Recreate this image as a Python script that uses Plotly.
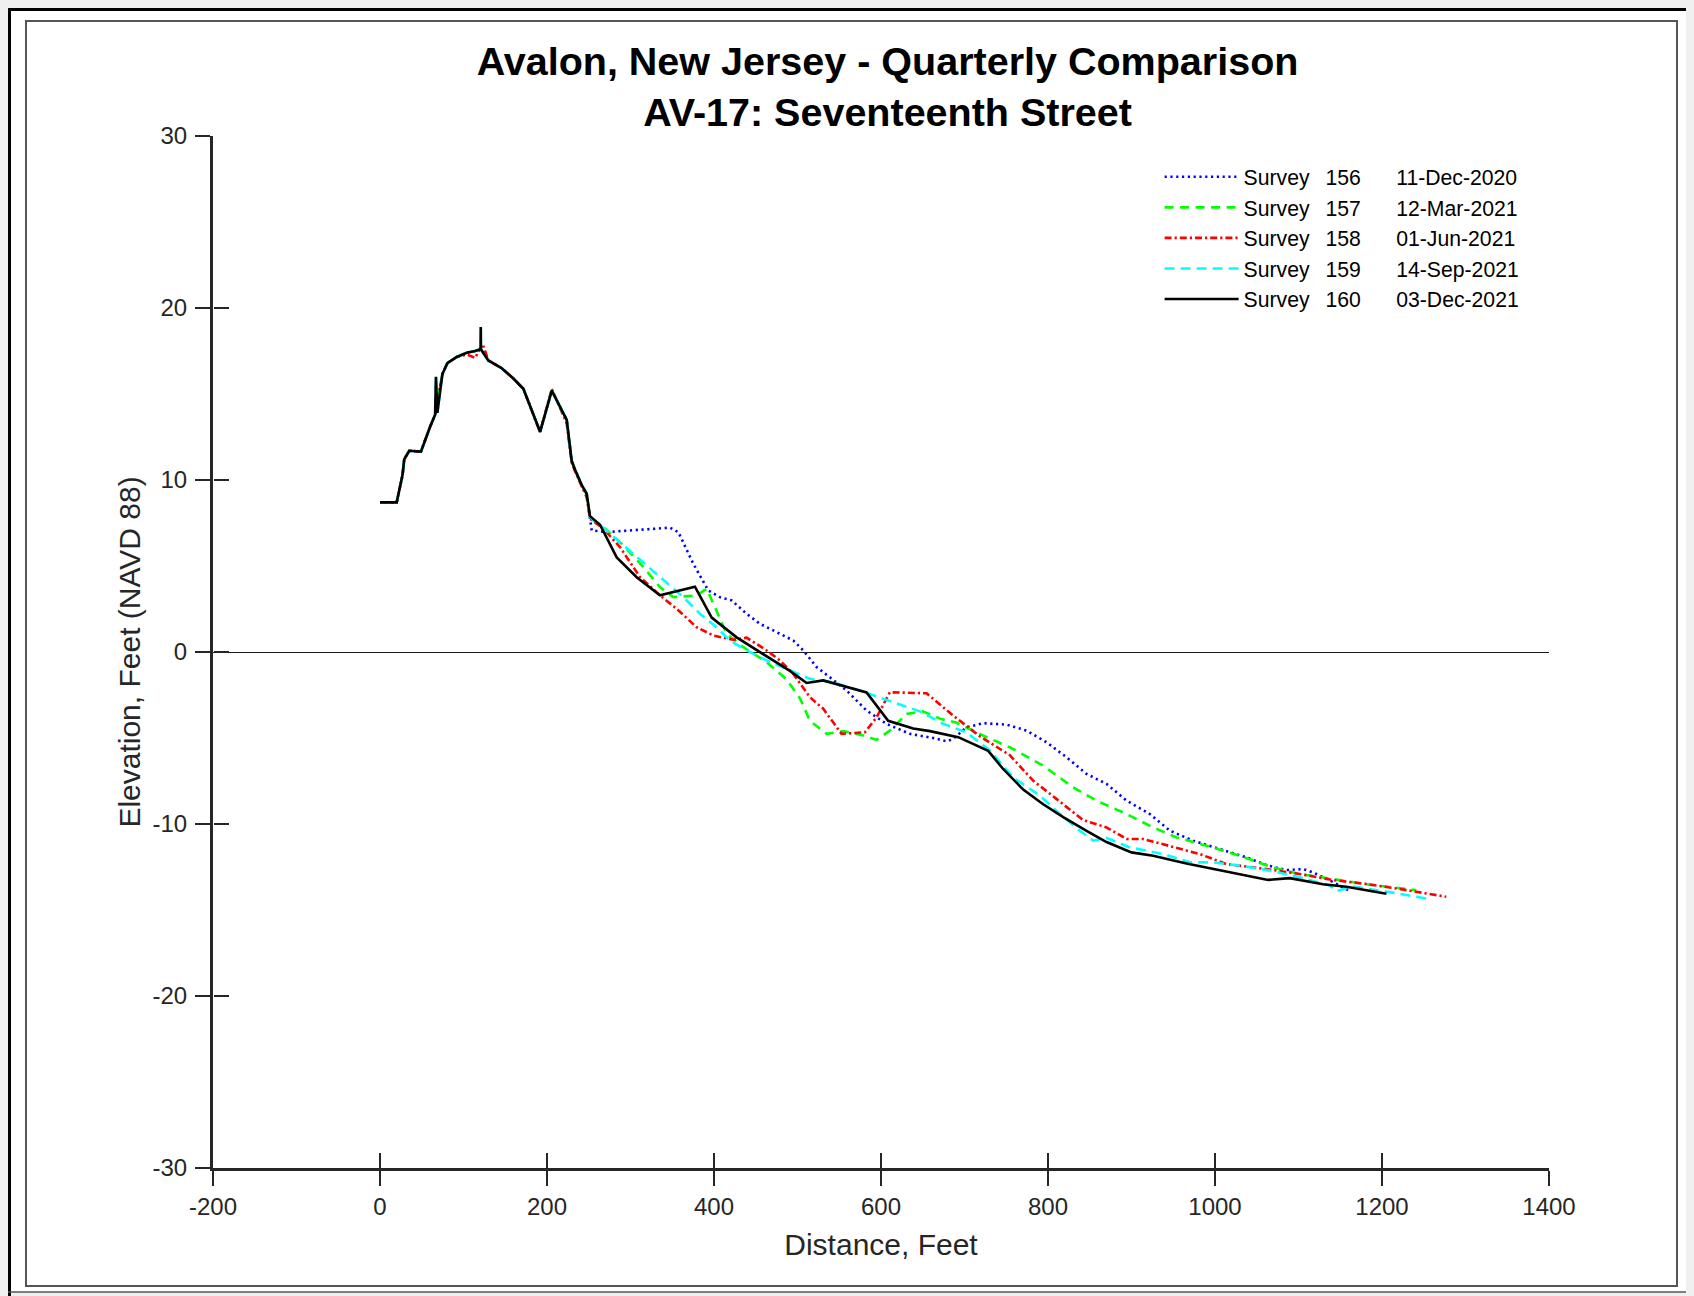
import plotly.graph_objects as go

# ---------------- data ----------------
dune_x = [0, 20, 27, 29, 35, 49, 60, 66, 67, 68.7, 74.7, 80.7, 91.9, 103.9, 113.9,
          120.5, 120.7, 120.9, 129.8, 145.8, 159.7, 171.7, 191.7, 205.7, 223.6,
          229.6, 233.6, 241.6, 247.5]
dune_y = [8.7, 8.7, 10.3, 11.2, 11.7, 11.65, 13.1, 13.8, 16.0, 13.9, 16.15, 16.8, 17.15, 17.4, 17.5,
          17.6, 18.9, 17.6, 16.95, 16.5, 15.9, 15.3, 12.8, 15.2, 13.5,
          11.1, 10.6, 9.7, 9.2]

# dune without the two survey spikes
dune_x_plain = [0, 20, 27, 29, 35, 49, 60, 66, 74.7, 80.7, 91.9, 103.9, 113.9,
                120.7, 129.8, 145.8, 159.7, 171.7, 191.7, 205.7, 223.6,
                229.6, 233.6, 241.6, 247.5]
dune_y_plain = [8.7, 8.7, 10.3, 11.2, 11.7, 11.65, 13.1, 13.8, 16.15, 16.8, 17.15, 17.4, 17.5,
                17.6, 16.95, 16.5, 15.9, 15.3, 12.8, 15.2, 13.5,
                11.1, 10.6, 9.7, 9.2]

red_dune_x = [0, 20, 27, 29, 35, 49, 60, 66, 74.7, 80.7, 91.9, 103.9, 113.9,
              123, 129.8, 145.8, 159.7, 171.7, 191.7, 205.7, 223.6,
              229.6, 233.6, 241.6, 247.5]
red_dune_y = [8.7, 8.7, 10.3, 11.2, 11.7, 11.65, 13.1, 13.8, 16.15, 16.8, 17.15, 17.3, 17.1,
              17.9, 16.95, 16.5, 15.9, 15.3, 12.8, 15.3, 13.3,
              11.0, 10.5, 9.6, 9.0]

s156_x = [253.5, 271.5, 315.4, 347.3, 357.3, 375.2, 393.1, 407.2, 421.2, 439.1, 455.0, 475.0,
          495.0, 506.9, 522.9, 538.8, 558.8, 582.7, 606.7, 634.6, 662.5, 678.6, 686.5, 702.5,
          722.4, 750.4, 774.3, 798.3, 822.2, 846.2, 870.1, 894.1, 922.0, 946.0, 973.8, 1005.8,
          1037.7, 1061.6, 1085.5, 1105.5, 1117.4, 1137.4, 1153.3, 1161.3]
s156_y = [7.07, 6.97, 7.11, 7.23, 6.97, 5.13, 3.58, 3.19, 3.0, 2.22, 1.64, 1.15,
          0.67, 0.09, -0.88, -1.47, -2.24, -3.4, -4.18, -4.76, -5.0, -5.19, -5.05, -4.38,
          -4.14, -4.22, -4.57, -5.25, -6.12, -7.09, -7.67, -8.64, -9.42, -10.39, -10.97, -11.46,
          -11.94, -12.39, -12.68, -12.62, -12.81, -13.28, -13.66, -13.89]

s157_x = [251.5, 267.5, 291.4, 315.4, 335.3, 351.3, 379.2, 391.2, 403.2, 415.2, 435.1, 463.1,
          487.0, 503.0, 514.9, 535.0, 555.0, 579.0, 594.7, 610.6, 630.6, 650.0, 672.0, 690.0,
          722.4, 754.3, 794.2, 830.1, 858.1, 894.1, 925.9, 953.9, 989.8, 1029.7, 1069.6,
          1101.5, 1141.4, 1181.0, 1241.0]
s157_y = [7.8, 7.26, 6.2, 4.94, 3.77, 3.19, 3.29, 3.68, 2.42, 1.06, 0.28, -0.59,
          -1.6, -2.7, -4.0, -4.76, -4.6, -4.86, -5.11, -4.57, -3.6, -3.45, -3.9, -4.1,
          -4.86, -5.54, -6.61, -7.87, -8.64, -9.42, -10.2, -10.78, -11.26, -11.85, -12.53,
          -12.91, -13.2, -13.5, -13.85]

s158_x = [251.5, 267.5, 287.4, 311.4, 335.3, 355.3, 379.2, 399.2, 423.1, 439.1, 463.1, 479.0,
          494.9, 514.9, 530.8, 552.8, 580.7, 594.7, 610.6, 654.6, 686.5, 718.4, 754.3, 782.2,
          810.1, 842.0, 870.1, 894.1, 914.0, 950.0, 981.9, 1013.8, 1061.6, 1101.5, 1141.4,
          1181.3, 1221.2, 1277.0]
s158_y = [7.75, 7.17, 6.1, 4.35, 3.29, 2.51, 1.44, 0.96, 0.71, 0.83, 0.09, -0.49,
          -1.27, -2.63, -3.3, -4.76, -4.67, -3.8, -2.34, -2.4, -3.7, -4.9, -6.0, -7.48,
          -8.54, -9.77, -10.2, -10.87, -10.87, -11.36, -11.75, -12.33, -12.62, -12.91, -13.26,
          -13.49, -13.78, -14.23]

s159_x = [251.5, 275.5, 303.4, 335.3, 363.2, 383.2, 403.2, 418.7, 439.1, 463.1, 490.9, 514.9,
          542.8, 574.7, 614.6, 646.6, 674.5, 702.5, 730.4, 758.3, 790.3, 814.2, 838.2, 854.1,
          870.1, 898.0, 937.9, 969.8, 997.7, 1029.7, 1065.6, 1101.5, 1137.4, 1145.3, 1165.0,
          1217.0, 1257.0]
s159_y = [7.85, 6.88, 5.72, 4.35, 3.19, 2.22, 1.44, 0.67, 0.09, -0.49, -1.08, -1.56,
          -1.76, -2.24, -2.92, -3.45, -4.18, -4.67, -5.73, -7.29, -8.35, -9.42, -10.39, -10.97,
          -10.81, -11.36, -11.75, -12.23, -12.23, -12.42, -12.71, -13.1, -13.58, -13.9, -13.63,
          -14.02, -14.37]

s160_x = [251.5, 263.5, 283.5, 307.4, 335.3, 377.2, 397.2, 427.1, 455.0, 490.9, 510.9, 530.8,
          582.7, 608.6, 638.6, 658.6, 692.5, 728.4, 746.3, 770.3, 794.2, 818.2, 846.2, 870.1,
          900.0, 925.9, 965.8, 1005.8, 1037.7, 1063.6, 1089.5, 1129.4, 1157.3, 1205.3]
s160_y = [7.9, 7.4, 5.5, 4.35, 3.3, 3.8, 2.0, 0.85, 0.0, -1.1, -1.8, -1.65,
          -2.35, -4.0, -4.45, -4.6, -4.95, -5.75, -6.8, -8.0, -8.85, -9.6, -10.4, -11.05,
          -11.65, -11.85, -12.3, -12.7, -13.0, -13.25, -13.15, -13.5, -13.65, -14.05]

survey_ids = ["156", "157", "158", "159", "160"]
survey_dates = ["11-Dec-2020", "12-Mar-2021", "01-Jun-2021", "14-Sep-2021", "03-Dec-2021"]

x_ticks = [-200, 0, 200, 400, 600, 800, 1000, 1200, 1400]
x_tick_labels = ["-200", "0", "200", "400", "600", "800", "1000", "1200", "1400"]
y_ticks = [-30, -20, -10, 0, 10, 20, 30]
y_tick_labels = ["-30", "-20", "-10", "0", "10", "20", "30"]

# ---------------- figure ----------------
BODY = 8                      # default page margin of the html body
W, H = 1694 - BODY, 1296 - BODY
ML, MT = 213 - BODY, 136 - BODY
PW, PH = 1336, 1032
MR, MB = W - ML - PW, H - MT - PH


def px(x_page):
    return (x_page - BODY - ML) / PW


def py(y_page):
    return (MT + PH - (y_page - BODY)) / PH


FONT = "Liberation Sans, Arial, Helvetica, sans-serif"
AX = "#262626"
GAP1 = "\u00a0\u00a0\u2009"
GAP2 = "\u00a0" * 6

series = [
    (dune_x_plain + s156_x, dune_y_plain + s156_y, "#0000FF", "2.2px,3.6px"),
    (dune_x_plain + s157_x, dune_y_plain + s157_y, "#00FF00", "9px,6.5px"),
    (red_dune_x + s158_x, red_dune_y + s158_y, "#FF0000", "7px,3px,2.2px,3px"),
    (dune_x + s159_x, dune_y + s159_y, "#00FFFF", "10px,6px"),
    (dune_x + s160_x, dune_y + s160_y, "#000000", "solid"),
]

fig = go.Figure()
for (xs, ys, col, dash), sid, sdate in zip(series, survey_ids, survey_dates):
    fig.add_trace(go.Scatter(x=xs, y=ys, mode="lines",
                             name="Survey" + GAP1 + sid + GAP2 + sdate,
                             line=dict(color=col, width=2.6, dash=dash)))

# helper overlay axes carrying the inward half of the crossing ticks
fig.add_trace(go.Scatter(x=[-200], y=[-30], xaxis="x2", yaxis="y2", showlegend=False,
                         mode="markers", marker=dict(opacity=0), hoverinfo="skip"))

tick_font = dict(family=FONT, size=24, color=AX)
fig.update_layout(
    width=W, height=H,
    margin=dict(l=ML, r=MR, t=MT, b=MB, autoexpand=False),
    paper_bgcolor="#f0f0f0",
    plot_bgcolor="white",
    font=dict(family=FONT, color="black"),
    title=dict(
        text="<b>Avalon, New Jersey - Quarterly Comparison<br>AV-17: Seventeenth Street</b>",
        x=0.5049, xref="paper", xanchor="center",
        y=1 - 67 / H, yref="container", yanchor="middle",
        font=dict(family=FONT, size=39.5, color="black"),
    ),
    xaxis=dict(
        range=[-200, 1400], tickvals=x_ticks, ticktext=x_tick_labels,
        showline=True, linewidth=3, linecolor=AX, mirror=False,
        ticks="outside", ticklen=15, tickwidth=2, tickcolor=AX,
        tickfont=tick_font, ticklabelstandoff=0,
        showgrid=False, zeroline=False,
        title=dict(text="Distance, Feet", font=dict(family=FONT, size=30, color=AX),
                   standoff=16),
    ),
    yaxis=dict(
        range=[-30, 30], tickvals=y_ticks, ticktext=y_tick_labels,
        showline=True, linewidth=3, linecolor=AX, mirror=False,
        ticks="outside", ticklen=15, tickwidth=2, tickcolor=AX,
        tickfont=tick_font, ticklabelstandoff=3,
        showgrid=False, zeroline=True, zerolinecolor="#1a1a1a", zerolinewidth=1.2,
        title=dict(text="Elevation, Feet (NAVD 88)", font=dict(family=FONT, size=30, color=AX),
                   standoff=4),
    ),
    xaxis2=dict(
        overlaying="x", anchor="y", side="bottom", range=[-200, 1400], tickvals=x_ticks,
        ticks="inside", ticklen=15, tickwidth=2, tickcolor=AX, showticklabels=False,
        showline=False, showgrid=False, zeroline=False,
    ),
    yaxis2=dict(
        overlaying="y", anchor="free", position=0, side="left", range=[-30, 30],
        tickvals=y_ticks,
        ticks="inside", ticklen=15, tickwidth=2, tickcolor=AX, showticklabels=False,
        showline=False, showgrid=False, zeroline=False,
    ),
    legend=dict(
        x=px(1159.6), y=py(156.5), xanchor="left", yanchor="top",
        bgcolor="rgba(255,255,255,0)", borderwidth=0,
        font=dict(family=FONT, size=21.2, color="black"),
        itemwidth=74, tracegroupgap=0,
    ),
    showlegend=True,
)

# figure window frame (outer window border and inner panel), page coordinates
fig.add_shape(type="rect", xref="paper", yref="paper",
              x0=px(8), x1=px(1689), y0=py(1292), y1=py(8),
              fillcolor="white", line=dict(width=0), layer="below")
fig.add_shape(type="line", xref="paper", yref="paper",
              x0=px(9.5), x1=px(9.5), y0=py(1296), y1=py(8),
              line=dict(color="black", width=3))
fig.add_shape(type="line", xref="paper", yref="paper",
              x0=px(8), x1=px(1694), y0=py(9.5), y1=py(9.5),
              line=dict(color="black", width=3))
fig.add_shape(type="line", xref="paper", yref="paper",
              x0=px(1689), x1=px(1689), y0=py(1292), y1=py(8),
              line=dict(color="#555555", width=1.5))
fig.add_shape(type="line", xref="paper", yref="paper",
              x0=px(8), x1=px(1689), y0=py(1292), y1=py(1292),
              line=dict(color="#555555", width=1.5))
fig.add_shape(type="rect", xref="paper", yref="paper",
              x0=px(26), x1=px(1677), y0=py(1286), y1=py(21),
              line=dict(color="#555555", width=2))

fig.write_html("out.html",
               post_script="document.body.style.backgroundColor='#f0f0f0';")
